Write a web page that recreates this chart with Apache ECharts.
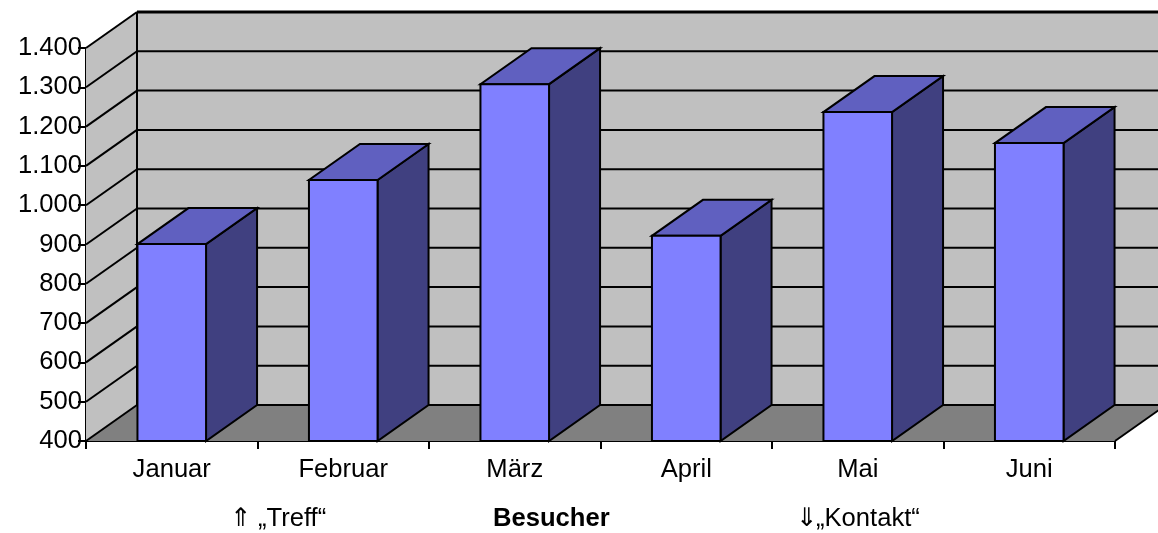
<!DOCTYPE html>
<html>
<head>
<meta charset="utf-8">
<script src="https://cdn.jsdelivr.net/npm/echarts@6/dist/echarts.min.js"></script>
<style>
html,body{margin:0;padding:0;background:#ffffff;}
#myChart{width:1158px;height:533px;}
</style>
</head>
<body>
<div id="myChart"></div>
<script>
const months = ['Januar', 'Februar', 'März', 'April', 'Mai', 'Juni'];
const visitors = [901, 1064, 1308, 922, 1237, 1158];
const yTicks = [400, 500, 600, 700, 800, 900, 1000, 1100, 1200, 1300, 1400];
const yTickLabels = ['400', '500', '600', '700', '800', '900', '1.000', '1.100', '1.200', '1.300', '1.400'];

// how far the back wall is shifted from the front plane
const depthX = 51;
const depthY = -36;
const font = '"Liberation Sans", Arial, sans-serif';

let myChart = echarts.init(document.getElementById('myChart'));

function poly(points, fill, width) {
  return {
    type: 'polygon',
    shape: {points: points},
    style: {fill: fill, stroke: '#000', lineWidth: width === undefined ? 2 : width, lineJoin: 'miter'}
  };
}

function seg(a, b, width) {
  return {
    type: 'line',
    shape: {x1: a[0], y1: a[1], x2: b[0], y2: b[1]},
    style: {stroke: '#000', lineWidth: width || 2}
  };
}

function back(p) {
  return [p[0] + depthX, p[1] + depthY];
}

function renderWalls(params, api) {
  let band = api.size([1, 0])[0];
  let bottom = api.coord([0, yTicks[0]]);
  let top = api.coord([0, yTicks[yTicks.length - 1]]);
  let end = api.coord([months.length - 1, yTicks[0]]);
  let bl = [bottom[0] - band / 2, bottom[1]];
  let tl = [top[0] - band / 2, top[1]];
  let br = [end[0] + band / 2, end[1]];
  let tr = [br[0], tl[1]];
  let children = [
    poly([bl, tl, back(tl), back(bl)], '#c0c0c0', 0),
    poly([back(bl), back(tl), back(tr), back(br)], '#c0c0c0', 0),
    poly([bl, back(bl), back(br), br], '#808080', 0)
  ];
  yTicks.forEach(function (v, i) {
    let p = api.coord([0, v]);
    let l = [bl[0], p[1]];
    let r = [br[0], p[1]];
    let last = i == yTicks.length - 1;
    children.push(seg(l, back(l), 2));
    children.push(seg(back(l), back(r), last ? 3 : 2));
  });
  children.push(seg(back(bl), back(tl), 2));
  children.push(seg(br, back(br), 2));
  return {type: 'group', children: children};
}

function renderBar(params, api) {
  let band = api.size([1, 0])[0];
  let w = band * 0.4;
  let base = api.coord([api.value(0), yTicks[0]]);
  let head = api.coord([api.value(0), api.value(1)]);
  let bl = [base[0] - w / 2, base[1]];
  let br = [base[0] + w / 2, base[1]];
  let tl = [head[0] - w / 2, head[1]];
  let tr = [head[0] + w / 2, head[1]];
  return {
    type: 'group',
    children: [
      poly([br, tr, back(tr), back(br)], '#404080'),
      poly([tl, tr, back(tr), back(tl)], '#6060c0'),
      poly([bl, tl, tr, br], '#8080ff')
    ]
  };
}

function caption(text, x, bold, family) {
  return {
    type: 'text',
    left: x,
    top: 506,
    style: {
      text: text,
      fontFamily: family || font,
      fontSize: 25.6,
      fontWeight: bold ? 'bold' : 'normal',
      fill: '#000'
    }
  };
}

let option = {
  animation: false,
  backgroundColor: '#ffffff',
  grid: {left: 86, right: 43, top: 48, bottom: 92},
  xAxis: {
    type: 'category',
    data: months,
    axisLine: {show: true, lineStyle: {color: '#000', width: 2}},
    axisTick: {show: true, length: 8, lineStyle: {color: '#000', width: 2}},
    axisLabel: {color: '#000', fontFamily: font, fontSize: 25.6, margin: 16, interval: 0}
  },
  yAxis: {
    type: 'value',
    min: 400,
    max: 1400,
    interval: 100,
    axisLine: {show: true, lineStyle: {color: '#000', width: 2}},
    axisTick: {show: true, length: 8, lineStyle: {color: '#000', width: 2}},
    splitLine: {show: false},
    axisLabel: {
      color: '#000',
      fontFamily: font,
      fontSize: 25.6,
      margin: 4,
      formatter: function (v) {
        return yTickLabels[yTicks.indexOf(v)];
      }
    }
  },
  graphic: [
    caption('⇑', 230, false, '"DejaVu Sans"'),
    caption('„Treff“', 258),
    caption('Besucher', 493, true),
    caption('⇓', 796, false, '"DejaVu Sans"'),
    caption('„Kontakt“', 816)
  ],
  series: [
    {type: 'custom', renderItem: renderWalls, data: [0], encode: {x: 0}, z: 1, silent: true, clip: false},
    {
      type: 'custom',
      renderItem: renderBar,
      data: visitors.map(function (v, i) { return [i, v]; }),
      encode: {x: 0, y: 1},
      z: 3,
      clip: false
    }
  ]
};
myChart.setOption(option);
</script>
</body>
</html>
